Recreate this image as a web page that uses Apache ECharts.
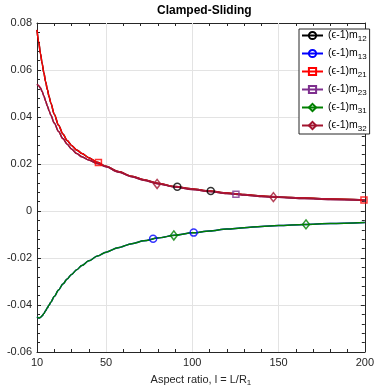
<!DOCTYPE html>
<html>
<head>
<meta charset="utf-8">
<script src="https://cdn.jsdelivr.net/npm/echarts@6/dist/echarts.min.js"></script>
<style>
  html, body { margin: 0; padding: 0; background: #fff; }
  #chart { width: 377px; height: 392px; }
</style>
</head>
<body>
<div id="chart"></div>
<script>
// aspect ratio samples, l = L/R1
const aspect = [10, 11, 12, 13, 14, 15, 16, 17, 18, 20, 22.5, 25, 27.5, 30, 33, 36, 40, 45, 50, 57, 65, 72, 80, 90, 100, 110, 120, 130, 140, 150, 165, 180, 200];

// m12 = m21 (red curve)
const curveRed = [0.0771, 0.0718, 0.0670, 0.0627, 0.0587, 0.0550, 0.0517, 0.0487, 0.0460, 0.0412, 0.0365, 0.0328, 0.0300, 0.0279, 0.0260, 0.0245, 0.0227, 0.0207, 0.0190, 0.0168, 0.0148, 0.0133, 0.0118, 0.0104, 0.0094, 0.0085, 0.0077, 0.0070, 0.0064, 0.0060, 0.0055, 0.0051, 0.0047];
// m23 = m32 (dark red curve)
const curveDark = [0.0539, 0.0533, 0.0523, 0.0508, 0.0489, 0.0468, 0.0447, 0.0427, 0.0408, 0.0374, 0.0338, 0.0308, 0.0284, 0.0264, 0.0245, 0.0231, 0.0217, 0.0202, 0.0188, 0.0166, 0.0146, 0.0131, 0.0116, 0.0102, 0.0092, 0.0083, 0.0075, 0.0068, 0.0062, 0.0058, 0.0053, 0.0049, 0.0045];
// m13 = m31 (green curve)
const curveGreen = [-0.0450, -0.0455, -0.0453, -0.0446, -0.0436, -0.0424, -0.0412, -0.0400, -0.0388, -0.0364, -0.0336, -0.0311, -0.0289, -0.0270, -0.0250, -0.0232, -0.0212, -0.0192, -0.0175, -0.0156, -0.0139, -0.0127, -0.0115, -0.0103, -0.0093, -0.0085, -0.0077, -0.0071, -0.0066, -0.0062, -0.0057, -0.0053, -0.0049];

// marker positions [l, value]
const markM12 = [[91.3, 0.0103], [110.7, 0.0085]];
const markM13 = [[77.3, -0.0118], [100.8, -0.0092]];
const markM21 = [[45.6, 0.0206], [199.5, 0.0047]];
const markM23 = [[125.3, 0.0071]];
const markM31 = [[89.3, -0.0104], [165.9, -0.0057]];
const markM32 = [[79.6, 0.0115], [147.0, 0.0059]];

const seriesNames = ['m12', 'm13', 'm21', 'm23', 'm31', 'm32'];
const seriesColors = ['#000000', '#0000ff', '#ff0000', '#7e2f8e', '#008000', '#a2142f'];
const seriesSymbols = ['circle', 'circle', 'rect', 'rect', 'diamond', 'diamond'];
const symbolSizes = [7, 7, 6, 6, [7, 9], [7, 9]];
const seriesCurves = [curveRed, curveGreen, curveRed, curveDark, curveGreen, curveDark];
const seriesMarks = [markM12, markM13, markM21, markM23, markM31, markM32];

const xLabelValues = [10, 50, 100, 150, 200];
const xGridValues = [50, 100, 150];

const FONT = '"Liberation Sans", Arial, sans-serif';
const AXIS_COLOR = '#262626';
const GRID_COLOR = '#e3e3e3';

const chart = echarts.init(document.getElementById('chart'));

const series = [];
seriesNames.forEach((name, i) => {
  const c = seriesColors[i];
  series.push({
    name: name,
    type: 'line',
    data: aspect.map((l, k) => [l, seriesCurves[i][k]]),
    smooth: 0.3,
    smoothMonotone: 'x',
    symbol: seriesSymbols[i],
    symbolSize: symbolSizes[i],
    showSymbol: false,
    color: c,
    lineStyle: { color: c, width: 1.5 },
    itemStyle: { color: 'rgba(0,0,0,0)', borderColor: c, borderWidth: 1.5 },
    emphasis: { disabled: true },
    z: 2,
    markLine: i === 0 ? {
      silent: true,
      symbol: 'none',
      z: 1,
      label: { show: false },
      lineStyle: { color: GRID_COLOR, type: 'solid', width: 1 },
      data: xGridValues.map(v => ({ xAxis: v }))
    } : undefined
  });
  // sparse markers on top of each curve
  series.push({
    name: name,
    type: 'scatter',
    data: seriesMarks[i],
    symbol: seriesSymbols[i],
    symbolSize: symbolSizes[i],
    itemStyle: { color: 'rgba(0,0,0,0)', borderColor: c, borderWidth: 1.5 },
    emphasis: { disabled: true },
    z: 3
  });
});

const yBase = {
  type: 'value',
  min: -0.06,
  max: 0.08,
  interval: 0.02,
  axisLine: { show: true, lineStyle: { color: AXIS_COLOR, width: 1 } },
  axisTick: { show: true, inside: true, length: 4, lineStyle: { color: AXIS_COLOR } },
  minorTick: { show: true, splitNumber: 5, length: 3, lineStyle: { color: AXIS_COLOR } },
  minorSplitLine: { show: false }
};

const xBase = {
  type: 'value',
  min: 10,
  max: 200,
  interval: 10,
  axisLine: { show: true, onZero: false, lineStyle: { color: AXIS_COLOR, width: 1 } },
  axisTick: { show: true, inside: true, length: 3, lineStyle: { color: AXIS_COLOR } },
  splitLine: { show: false }
};

chart.setOption({
  animation: false,
  backgroundColor: '#fff',
  title: {
    text: 'Clamped-Sliding',
    left: 157,
    top: 5,
    padding: 0,
    textStyle: { fontFamily: FONT, fontSize: 12, fontWeight: 'bold', color: '#000' }
  },
  grid: { left: 37, right: 6, top: 23, bottom: 36, containLabel: false },
  legend: {
    data: seriesNames,
    orient: 'vertical',
    left: 299,
    top: 29,
    itemWidth: 21,
    itemHeight: 9,
    itemGap: 5,
    padding: [1, 3, 1, 2],
    borderColor: AXIS_COLOR,
    borderWidth: 1,
    backgroundColor: '#fff',
    selectedMode: false,
    formatter: n => '(\u03f5-1)m{s|' + n.slice(1) + '}',
    textStyle: {
      fontFamily: FONT,
      fontSize: 10.5,
      color: '#000',
      rich: { s: { fontFamily: FONT, fontSize: 8, color: '#000', padding: [7, 0, 0, 0] } }
    }
  },
  xAxis: [
    Object.assign({}, xBase, {
      position: 'bottom',
      name: 'Aspect ratio, l = L/R{s|1}',
      nameLocation: 'middle',
      nameGap: 20,
      nameTextStyle: {
        fontFamily: FONT, fontSize: 11, color: AXIS_COLOR,
        rich: { s: { fontFamily: FONT, fontSize: 8, color: AXIS_COLOR, padding: [7, 0, 0, 0] } }
      },
      axisLabel: {
        customValues: xLabelValues,
        fontFamily: FONT, fontSize: 11, color: AXIS_COLOR, margin: 5
      }
    }),
    Object.assign({}, xBase, {
      position: 'top',
      axisLabel: { show: false }
    })
  ],
  yAxis: [
    Object.assign({}, yBase, {
      position: 'left',
      splitLine: { show: true, lineStyle: { color: GRID_COLOR, width: 1 } },
      axisLabel: {
        fontFamily: FONT, fontSize: 11, color: AXIS_COLOR, margin: 5,
        formatter: v => (Math.abs(v) < 1e-9 ? '0' : v.toFixed(2))
      }
    }),
    Object.assign({}, yBase, {
      position: 'right',
      splitLine: { show: false },
      axisLabel: { show: false }
    })
  ],
  series: series
});
</script>
</body>
</html>
